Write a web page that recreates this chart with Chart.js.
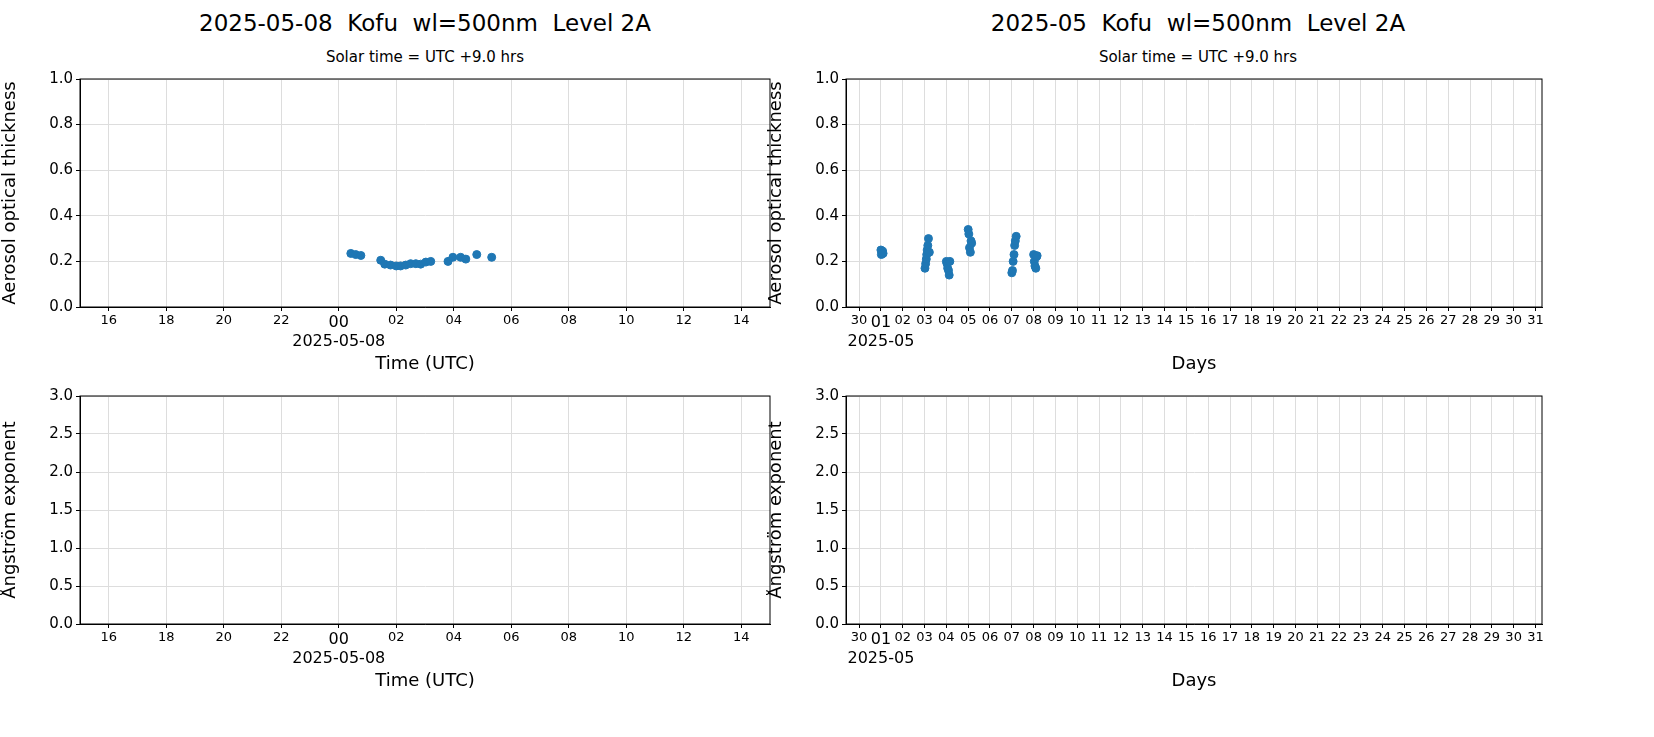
<!DOCTYPE html>
<html><head><meta charset="utf-8">
<script src="https://cdn.jsdelivr.net/npm/chart.js@4"></script>
<style>
body{margin:0;width:1654px;height:737px;background:#fff;font-family:"DejaVu Sans",sans-serif;position:relative;overflow:hidden}
.t{position:absolute;text-align:center;color:#000}
.big{font-size:23px;top:10px}
.sub{font-size:15px;top:48px}
canvas{position:absolute}
</style></head><body>
<div class="t big" style="left:80px;width:690px">2025-05-08&nbsp; Kofu&nbsp; wl=500nm&nbsp; Level 2A</div>
<div class="t sub" style="left:80px;width:690px">Solar time = UTC +9.0 hrs</div>
<div class="t big" style="left:850px;width:696px">2025-05&nbsp; Kofu&nbsp; wl=500nm&nbsp; Level 2A</div>
<div class="t sub" style="left:850px;width:696px">Solar time = UTC +9.0 hrs</div>
<div style="position:absolute;left:0;top:67px;width:784px;height:312px"><canvas id="c1"></canvas></div>
<div style="position:absolute;left:0;top:384px;width:784px;height:312px"><canvas id="c2"></canvas></div>
<div style="position:absolute;left:766px;top:67px;width:790px;height:312px"><canvas id="c3"></canvas></div>
<div style="position:absolute;left:766px;top:384px;width:790px;height:312px"><canvas id="c4"></canvas></div>
<script>
// hours relative to 2025-05-08 00 UTC
const dayHours = [0.42,0.59,0.77,1.46,1.6,1.8,2.0,2.15,2.33,2.5,2.68,2.85,3.03,3.2,3.8,3.97,4.24,4.42,4.8,5.32];
const dayAot = [0.235,0.23,0.226,0.205,0.188,0.184,0.18,0.18,0.184,0.19,0.19,0.188,0.197,0.2,0.2,0.218,0.218,0.21,0.23,0.218];
// day of month (30 Apr = 0)
const monthDays = [1.0,1.02,1.05,1.08,1.1,
  3.02,3.05,3.08,3.1,3.12,3.15,3.18,3.22,
  4.0,4.03,4.06,4.1,4.13,4.16,
  5.0,5.03,5.06,5.1,5.13,5.16,
  7.0,7.03,7.06,7.1,7.13,7.16,7.2,
  8.0,8.03,8.06,8.1,8.13,8.16];
const monthAot = [0.25,0.23,0.24,0.245,0.235,
  0.17,0.19,0.21,0.23,0.25,0.27,0.30,0.24,
  0.2,0.19,0.17,0.16,0.14,0.2,
  0.34,0.32,0.26,0.24,0.29,0.28,
  0.15,0.16,0.2,0.23,0.27,0.29,0.31,
  0.23,0.2,0.18,0.17,0.22,0.225];
const hourTicks = [-8,-6,-4,-2,0,2,4,6,8,10,12,14];
const dayTicks = Array.from({length:32},(_, i) => i);
const blue = '#1f77b4';

function mkOpts(xt, yTitle, yMax, yStep, xTitle, xTicks, xMin, xMax, labelFn) {
  return {
    responsive: true, maintainAspectRatio: false, animation: false,
    layout: { padding: { top: 3, right: 14 } },
    plugins: { legend: { display: false }, tooltip: { enabled: false } },
    scales: {
      x: {
        type: 'linear', min: xMin, max: xMax,
        afterBuildTicks: s => { s.ticks = xTicks.map(v => ({ value: v })); },
        afterFit: s => { s.height = 72; },
        grid: { color: '#dddddd', drawTicks: true, tickColor: '#000', tickLength: 4 },
        border: { color: '#000' },
        ticks: { color: '#000', maxRotation: 0, autoSkip: false, padding: 2,
          font: c => ({ family: 'DejaVu Sans', size: c.tick && c.tick.value === xt ? 16 : 13 }),
          callback: labelFn },
        title: { display: true, text: xTitle, color: '#000', font: { family: 'DejaVu Sans', size: 18 }, padding: { top: 2 } }
      },
      y: {
        min: 0, max: yMax,
        ticks: { stepSize: yStep, color: '#000', font: { family: 'DejaVu Sans', size: 15 }, callback: v => v.toFixed(1) },
        afterFit: s => { s.width = 80; },
        grid: { color: '#dddddd', tickColor: '#000', tickLength: 4 },
        border: { color: '#000' },
        title: { display: true, text: yTitle, color: '#000', font: { family: 'DejaVu Sans', size: 18 }, padding: 0 }
      }
    }
  };
}
// full frame box
const frame = { id: 'frame', afterDraw(ch) {
  const a = ch.chartArea, c = ch.ctx;
  c.save(); c.strokeStyle = '#000'; c.lineWidth = 1;
  c.strokeRect(a.left, a.top, a.right - a.left, a.bottom - a.top); c.restore();
} };
const hourLbl = v => { const h = String(((v % 24) + 24) % 24).padStart(2, '0'); return v === 0 ? [h, '2025-05-08'] : h; };
const dayLbl = v => v === 0 ? '30' : (v === 1 ? ['01', '2025-05'] : String(v).padStart(2, '0'));

function mk(id, xs, ys, yTitle, yMax, yStep, xTitle, xTicks, xMin, xMax, lbl, xt) {
  new Chart(document.getElementById(id), {
    type: 'scatter',
    data: { datasets: [{ data: xs.map((x, i) => ({ x, y: ys[i] })), backgroundColor: blue, borderColor: blue, pointRadius: 4 }] },
    options: mkOpts(xt, yTitle, yMax, yStep, xTitle, xTicks, xMin, xMax, lbl),
    plugins: [frame]
  });
}
mk('c1', dayHours, dayAot, 'Aerosol optical thickness', 1, 0.2, 'Time (UTC)', hourTicks, -9, 15, hourLbl, 0);
mk('c2', [], [], 'Ångström exponent', 3, 0.5, 'Time (UTC)', hourTicks, -9, 15, hourLbl, 0);
mk('c3', monthDays, monthAot, 'Aerosol optical thickness', 1, 0.2, 'Days', dayTicks, -0.6, 31.3, dayLbl, 1);
mk('c4', [], [], 'Ångström exponent', 3, 0.5, 'Days', dayTicks, -0.6, 31.3, dayLbl, 1);
</script></body></html>
